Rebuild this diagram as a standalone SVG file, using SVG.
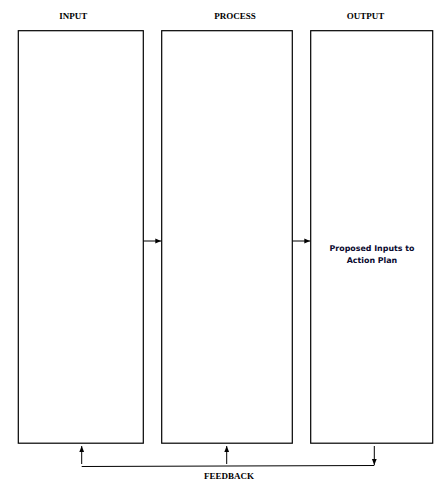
<svg xmlns="http://www.w3.org/2000/svg" width="448" height="487" viewBox="0 0 448 487">
<style>
.box{fill:#fff;stroke:#000;stroke-width:1.2}
.hdr{font-family:"Liberation Serif","Times New Roman",serif;font-weight:bold;font-size:9px;fill:#000;text-anchor:middle}
.lbl{font-family:"DejaVu Sans","Liberation Sans",sans-serif;font-weight:bold;font-size:7.9px;fill:#0a0a30;text-anchor:middle}
.ln{stroke:#000;stroke-width:1;fill:none}
</style>
<defs>
<marker id="ah" viewBox="0 0 10 10" refX="10" refY="5" markerWidth="6" markerHeight="6" markerUnits="userSpaceOnUse" orient="auto">
<path d="M0,1 L10,5 L0,9 Z" fill="#000"/>
</marker>
</defs>
<rect width="448" height="487" fill="#fff"/>
<g id="input"><rect class="box" x="18.3" y="30.7" width="125" height="412.5"/><text class="hdr" x="73.3" y="18.7">INPUT</text></g>
<g id="process"><rect class="box" x="161.7" y="30.7" width="130.6" height="412.5"/><text class="hdr" x="235" y="18.7">PROCESS</text></g>
<g id="output"><rect class="box" x="310.7" y="30.7" width="122" height="412.5"/><text class="hdr" x="365.5" y="18.7">OUTPUT</text><text class="lbl" x="372" y="250.5">Proposed Inputs to</text><text class="lbl" x="372" y="262.5">Action Plan</text></g>
<g id="connectors">
<line class="ln" x1="143.3" y1="241" x2="161.3" y2="241" marker-end="url(#ah)"/>
<line class="ln" x1="292.3" y1="241" x2="310.3" y2="241" marker-end="url(#ah)"/>
<line class="ln" x1="81.7" y1="464" x2="81.7" y2="446" marker-end="url(#ah)"/>
<line class="ln" x1="226.7" y1="464" x2="226.7" y2="446" marker-end="url(#ah)"/>
<line class="ln" x1="374.3" y1="446" x2="374.3" y2="465" marker-end="url(#ah)"/>
<line class="ln" x1="81.7" y1="466.5" x2="374.3" y2="465.5"/>
</g>
<g id="feedback"><text class="hdr" x="229" y="478.5">FEEDBACK</text></g>
</svg>
